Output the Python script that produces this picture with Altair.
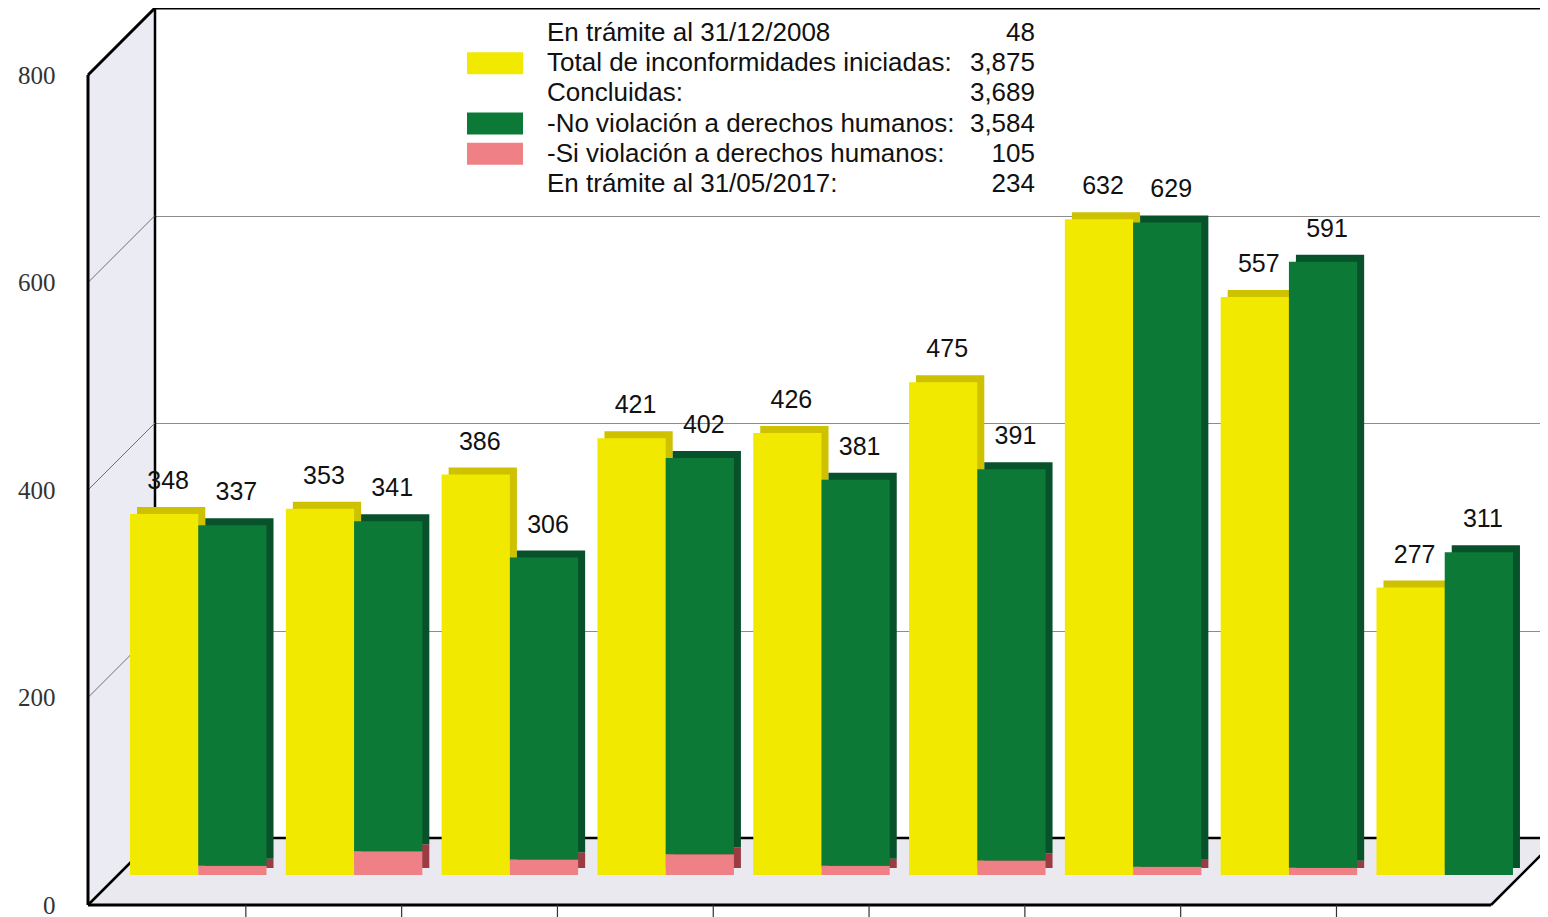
import altair as alt
import pandas as pd

# ---------------- data ----------------
years = ["2009", "2010", "2011", "2012", "2013", "2014", "2015", "2016", "2017"]
iniciadas = [348, 353, 386, 421, 426, 475, 632, 557, 277]
concluidas = [337, 341, 306, 402, 381, 391, 629, 591, 311]
si_violacion = [9, 23, 15, 20, 9, 14, 8, 7, 0]
no_violacion = [c - s for c, s in zip(concluidas, si_violacion)]
en_tramite_2008 = 48
y_ticks = [0, 200, 400, 600, 800]

legend_labels = [
    "En trámite al 31/12/2008",
    "Total de inconformidades iniciadas:",
    "Concluidas:",
    "-No violación a derechos humanos:",
    "-Si  violación a derechos humanos:",
    "En trámite al 31/05/2017:",
]
tot_ini = sum(iniciadas)
tot_con = sum(concluidas)
legend_values = [
    f"{en_tramite_2008:,}",
    f"{tot_ini:,}",
    f"{tot_con:,}",
    f"{sum(no_violacion):,}",
    f"{sum(si_violacion):,}",
    f"{en_tramite_2008 + tot_ini - tot_con:,}",
]

# ---------------- styling / layout ----------------
SANS = "Liberation Sans"
SERIF = "Liberation Serif"
PAD_L = 147
W = 1385          # back wall width
H = 830           # back wall height
D = 67            # depth of the 3D box (front edge offset)
BO = 37           # bar base offset below the back wall bottom
SIDE = 7          # bar extrusion
FR = 1336         # front right corner of the floor
R0, R1 = -31.2, 1364.2

parts = ["ini", "no", "si"]
front_cols = ["#f2e900", "#0c7a36", "#ef8086"]
side_cols = ["#cdc100", "#07522a", "#9b3c44"]
series = ["Iniciadas", "Concluidas"]

bars_rows = []
for i, yr in enumerate(years):
    bars_rows.append(dict(year=yr, serie="Iniciadas", part="ini", lo=0, hi=iniciadas[i]))
    bars_rows.append(dict(year=yr, serie="Concluidas", part="si", lo=0, hi=si_violacion[i]))
    bars_rows.append(dict(year=yr, serie="Concluidas", part="no", lo=si_violacion[i], hi=concluidas[i]))
bars_df = pd.DataFrame(bars_rows)

lab_rows = []
for i, yr in enumerate(years):
    lab_rows.append(dict(year=yr, serie="Iniciadas", value=iniciadas[i], txt=str(iniciadas[i])))
    lab_rows.append(dict(year=yr, serie="Concluidas", value=concluidas[i], txt=str(concluidas[i])))
lab_df = pd.DataFrame(lab_rows)


def band(shift=0.0):
    return alt.Scale(domain=years, range=[R0 + shift, R1 + shift],
                     paddingInner=0.124, paddingOuter=0.04)


xo = alt.Scale(domain=series, paddingInner=0, paddingOuter=0)
ys = alt.Scale(domain=[0, 800], nice=False, zero=True)
yax = alt.Axis(values=y_ticks, title=None, grid=True, gridColor="#8c8c8c", gridWidth=1,
               domain=False, ticks=False, tickSize=0, labelPadding=100, labelOffset=D,
               labelFont=SERIF, labelFontSize=25, labelColor="#333333",
               labelFlush=False, labelOverlap=False)

XO = alt.XOffset("serie:N", scale=xo)

# ---------------- decoration fills (3D walls) ----------------
wall_df = pd.DataFrame({"px": [-D, 0], "py": [D, 0], "py2": [H + D, H]})
wall = alt.Chart(wall_df).mark_area(orient="vertical", color="#ebebf3").encode(
    x=alt.X("px:Q", scale=None, axis=None),
    y=alt.Y("py:Q", scale=None, axis=None),
    y2="py2:Q",
)
floor_df = pd.DataFrame({"py": [H, H + D], "px": [0, -D], "px2": [FR + D, FR]})
floor = alt.Chart(floor_df).mark_area(orient="horizontal", color="#e9e9ef").encode(
    y=alt.Y("py:Q", scale=None, axis=None),
    x=alt.X("px:Q", scale=None, axis=None),
    x2="px2:Q",
)
deco = alt.layer(wall, floor)

# ---------------- edges + axis ----------------
base = alt.Chart(pd.DataFrame({"k": [0]}))


def yd(v):
    return alt.YDatum(v, scale=ys, axis=yax)


top_edge = base.mark_rule(color="black", strokeWidth=3).encode(
    x=alt.value(0), x2=alt.value(W), y=yd(800))
back_bottom = base.mark_rule(color="black", strokeWidth=2.5).encode(
    x=alt.value(0), x2=alt.value(W), y=yd(0))
back_left = base.mark_rule(color="black", strokeWidth=2.5).encode(
    x=alt.value(0), y=yd(0), y2=alt.Y2Datum(800))
diag_thin = alt.Chart(pd.DataFrame({"v": y_ticks[1:-1]})).mark_rule(
    color="#6e6e6e", strokeWidth=1, y2Offset=D).encode(
    x=alt.value(0), x2=alt.value(-D),
    y=alt.Y("v:Q", scale=ys, axis=yax), y2="v:Q")
diag_top = base.mark_rule(color="black", strokeWidth=3, y2Offset=D).encode(
    x=alt.value(0), x2=alt.value(-D), y=yd(800), y2=alt.Y2Datum(800))
diag_bot = base.mark_rule(color="black", strokeWidth=2.5, y2Offset=D).encode(
    x=alt.value(0), x2=alt.value(-D), y=yd(0), y2=alt.Y2Datum(0))
front_left = base.mark_rule(color="black", strokeWidth=3, yOffset=D, y2Offset=D).encode(
    x=alt.value(-D), y=yd(0), y2=alt.Y2Datum(800))
front_bottom = base.mark_rule(color="black", strokeWidth=3, yOffset=D).encode(
    x=alt.value(-D), x2=alt.value(FR), y=yd(0))
right_diag = base.mark_rule(color="black", strokeWidth=2.5, yOffset=D, y2Offset=0).encode(
    x=alt.value(FR), x2=alt.value(FR + D), y=yd(0), y2=alt.Y2Datum(0))
cat_ticks = alt.Chart(pd.DataFrame({"year": years[1:]})).mark_rule(
    color="#333333", strokeWidth=1.2, xOffset=-40).encode(
    x=alt.X("year:N", scale=band(), axis=None, bandPosition=0),
    y=alt.value(H + D), y2=alt.value(H + D + 16))

edges = alt.layer(
    top_edge, back_bottom, back_left, diag_thin, diag_top, diag_bot,
    front_left, front_bottom, right_diag, cat_ticks,
)

# ---------------- bars ----------------
shadows = alt.Chart(bars_df).mark_bar(yOffset=BO - SIDE, y2Offset=BO - SIDE).encode(
    x=alt.X("year:N", scale=band(SIDE), axis=None), xOffset=XO,
    y=alt.Y("hi:Q", scale=ys, axis=None), y2="lo:Q",
    color=alt.Color("part:N", scale=alt.Scale(domain=parts, range=side_cols), legend=None),
)
fronts = alt.Chart(bars_df).mark_bar(yOffset=BO, y2Offset=BO).encode(
    x=alt.X("year:N", scale=band(), axis=None), xOffset=XO,
    y=alt.Y("hi:Q", scale=ys, axis=None), y2="lo:Q",
    color=alt.Color("part:N", scale=alt.Scale(domain=parts, range=front_cols), legend=None),
)
labels = alt.Chart(lab_df).mark_text(
    font=SANS, fontSize=25, color="#111111", baseline="middle", dy=-33, dx=4, yOffset=BO
).encode(
    x=alt.X("year:N", scale=band(), axis=None), xOffset=XO,
    y=alt.Y("value:Q", scale=ys, axis=None),
    text="txt:N",
)
bars = alt.layer(fronts, labels)

# ---------------- legend ----------------
ly = alt.Scale(type="point", domain=list(range(6)), range=[25, 176], padding=0)
leg_df = pd.DataFrame({"row": list(range(6)), "label": legend_labels, "value": legend_values})
sw_df = pd.DataFrame({"row": [1, 3, 4], "part": ["ini", "no", "si"]})

swatches = alt.Chart(sw_df).mark_rule(strokeWidth=22, strokeCap="butt").encode(
    x=alt.value(312), x2=alt.value(368),
    y=alt.Y("row:O", scale=ly, axis=None),
    color=alt.Color("part:N", scale=alt.Scale(domain=parts, range=front_cols), legend=None),
)
leg_text = alt.Chart(leg_df).mark_text(
    font=SANS, fontSize=26, color="#111111", align="left", baseline="middle").encode(
    x=alt.value(392), y=alt.Y("row:O", scale=ly, axis=None), text="label:N")
leg_vals = alt.Chart(leg_df).mark_text(
    font=SANS, fontSize=26, color="#111111", align="right", baseline="middle").encode(
    x=alt.value(880), y=alt.Y("row:O", scale=ly, axis=None), text="value:N")
legend = alt.layer(swatches, leg_text, leg_vals)

chart = alt.layer(deco, edges, shadows, bars, legend).resolve_scale(
    x="independent", y="independent", color="independent"
).properties(
    width=W, height=H,
    autosize=alt.AutoSizeParams(type="none"),
    padding={"left": PAD_L, "top": 0, "right": 0, "bottom": 79},
).configure_view(stroke=None)

chart.save("out.html", embed_options={"renderer": "svg", "actions": False})
